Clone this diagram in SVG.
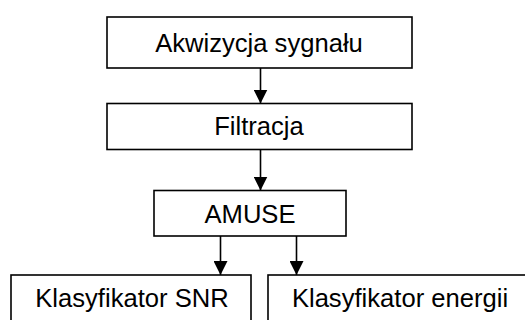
<svg xmlns="http://www.w3.org/2000/svg" width="525" height="320" viewBox="0 0 525 320">
  <style>
    .box { fill: #ffffff; stroke: #000000; stroke-width: 1.6; }
    .label { font-family: "Liberation Sans", Arial, sans-serif; font-size: 25.6px; fill: #000000; text-anchor: middle; }
    .link { stroke: #000000; stroke-width: 1.6; fill: none; marker-end: url(#arrow); }
  </style>
  <defs>
    <!-- filled triangular arrowhead, drawn along +x so orient="auto" turns it with the line -->
    <marker id="arrow" markerUnits="userSpaceOnUse" markerWidth="14" markerHeight="14" refX="14" refY="7" orient="auto" viewBox="0 0 14 14">
      <path d="M0,0 L14,7 L0,14 Z" fill="#000000"/>
    </marker>
  </defs>
  <rect x="0" y="0" width="525" height="320" fill="#ffffff"/>

  <g id="acquisition">
    <rect class="box" x="107" y="17" width="305" height="51"/>
    <text class="label" x="259" y="52">Akwizycja sygnału</text>
  </g>
  <g id="filtering">
    <rect class="box" x="107" y="103.5" width="305" height="46"/>
    <text class="label" x="259" y="135">Filtracja</text>
  </g>
  <g id="amuse">
    <rect class="box" x="154" y="190.5" width="192" height="45.5"/>
    <text class="label" x="250" y="223">AMUSE</text>
  </g>
  <g id="snr-classifier">
    <rect class="box" x="11" y="275" width="240" height="60"/>
    <text class="label" x="132" y="307">Klasyfikator SNR</text>
  </g>
  <g id="energy-classifier">
    <rect class="box" x="268" y="275" width="270" height="60"/>
    <text class="label" x="400" y="307">Klasyfikator energii</text>
  </g>

  <g id="connectors">
    <path class="link" d="M260.5,68 V103.5"/>
    <path class="link" d="M260.5,149.5 V190.5"/>
    <path class="link" d="M220.5,236 V275"/>
    <path class="link" d="M296.5,236 V275"/>
  </g>
</svg>
